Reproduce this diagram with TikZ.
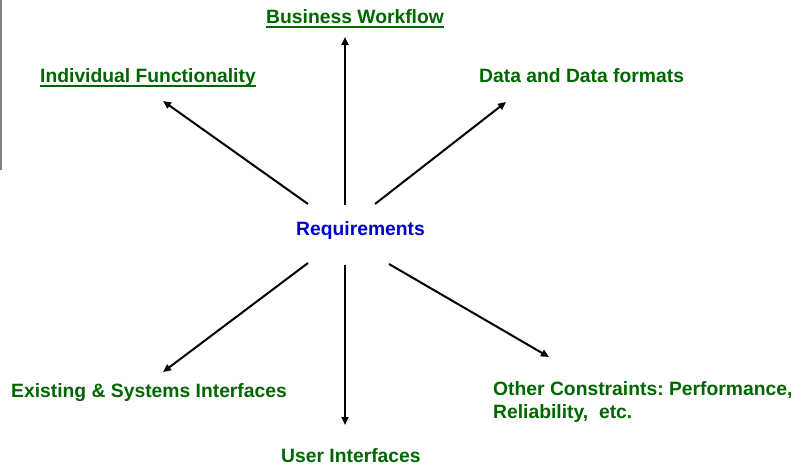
\documentclass[tikz,border=0pt]{standalone}
\usepackage{fontspec}
\setmainfont{Liberation Sans}
\usetikzlibrary{arrows.meta}
\definecolor{lblgreen}{RGB}{0,102,0}
\definecolor{reqblue}{RGB}{0,0,204}
\frenchspacing
\begin{document}
\begin{tikzpicture}[x=1pt,y=-1pt,
  lbl/.style={inner sep=0pt, anchor=base west, font=\fontsize{19.3}{23}\selectfont\bfseries, text=lblgreen},
  conn/.style={line width=2pt, -{Triangle[length=8pt,width=7pt]}},
  uline/.style={line width=2pt, draw=lblgreen}]
\useasboundingbox (0,0) rectangle (799,469);
\draw[gray, line width=1.5pt] (1,0) -- (1,170);

\node[lbl] (bw) at (266,23) {Business Workflow};
\node[lbl] (indf) at (40,82) {Individual Functionality};
\node[lbl] (data) at (479,82) {Data and Data formats};
\node[lbl, text=reqblue] (req) at (296,235) {Requirements};
\node[lbl] (exist) at (11,397) {Existing \& Systems Interfaces};
\node[lbl] (ui) at (281,462) {User Interfaces};
\node[lbl, align=left] (oc) at (493,418) {\frenchspacing Other Constraints: Performance,\\Reliability,\ \ etc.};

\draw[uline] ([yshift=-4pt]bw.base west) -- ([yshift=-4pt]bw.base east);
\draw[uline] ([yshift=-4pt]indf.base west) -- ([yshift=-4pt]indf.base east);

\coordinate (sUp) at (345,205);
\coordinate (sUL) at (308,204);
\coordinate (sUR) at (375,204);
\coordinate (sDL) at (308,263);
\coordinate (sD)  at (345,265);
\coordinate (sDR) at (389,264);
\coordinate (eUp) at (345,37);
\coordinate (eUL) at (163,101);
\coordinate (eUR) at (506,102);
\coordinate (eDL) at (163,372);
\coordinate (eD)  at (345,425);
\coordinate (eDR) at (549,357);

\draw[conn] (sUp) -- (eUp);
\draw[conn] (sUL) -- (eUL);
\draw[conn] (sUR) -- (eUR);
\draw[conn] (sDL) -- (eDL);
\draw[conn] (sD) -- (eD);
\draw[conn] (sDR) -- (eDR);
\end{tikzpicture}
\end{document}
